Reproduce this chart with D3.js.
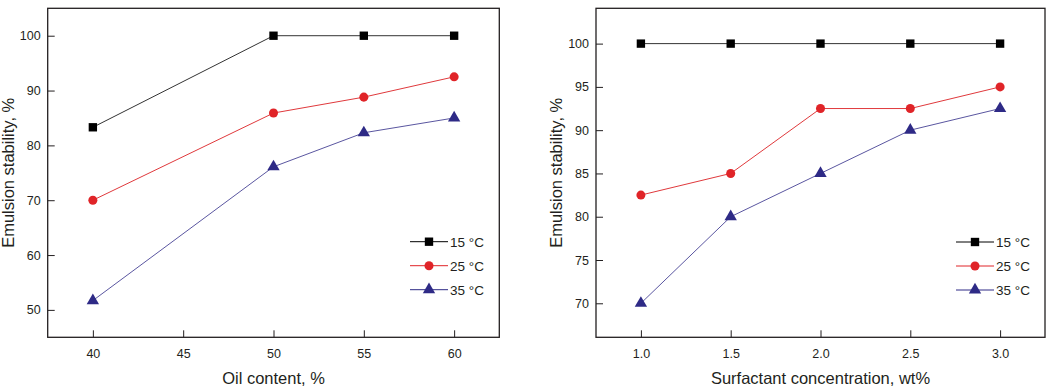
<!DOCTYPE html>
<html>
<head>
<meta charset="utf-8">
<script src="https://cdn.jsdelivr.net/npm/d3@7"></script>
<style>
  body { margin: 0; background: #fff; }
  text { font-family: "Liberation Sans", Arial, sans-serif; fill: #231f20; }
</style>
</head>
<body>
<svg id="chart" width="1055" height="389"></svg>
<script>
// data
var seriesNames = ["15 °C", "25 °C", "35 °C"];
var seriesColors = ["#000000", "#e02428", "#2e2a86"];
var lineColors = ["#333333", "#e0393c", "#5a56a0"];
var seriesShapes = ["square", "circle", "triangle"];

var oilX = [40, 50, 55, 60];
var oil15 = [83.3, 100, 100, 100];
var oil25 = [70, 85.9, 88.8, 92.5];
var oil35 = [51.7, 76.1, 82.3, 85.0];
var oilTicksX = [40, 45, 50, 55, 60];
var oilTicksY = [50, 60, 70, 80, 90, 100];

var surfX = [1.0, 1.5, 2.0, 2.5, 3.0];
var surf15 = [100, 100, 100, 100, 100];
var surf25 = [82.5, 85, 92.5, 92.5, 95];
var surf35 = [70, 80, 85, 90, 92.5];
var surfTicksX = [1.0, 1.5, 2.0, 2.5, 3.0];
var surfTicksY = [70, 75, 80, 85, 90, 95, 100];

var svg = d3.select("#chart");

function symbolFor(shape) {
  if (shape == "square") return d3.symbol().type(d3.symbolSquare).size(70);
  if (shape == "circle") return d3.symbol().type(d3.symbolCircle).size(64);
  return d3.symbol().type(d3.symbolTriangle).size(66);
}

function drawPanel(opt) {
  var x = d3.scaleLinear().domain(opt.xDomain).range([opt.left, opt.right]);
  var y = d3.scaleLinear().domain(opt.yDomain).range([opt.bottom, opt.top]);
  var g = svg.append("g");

  // x axis (ticks pointing inward)
  g.append("g")
    .attr("transform", "translate(0," + opt.bottom + ")")
    .call(d3.axisTop(x).tickValues(opt.xTicks).tickSize(7).tickFormat(opt.xFormat))
    .call(function(a) {
      a.select(".domain").remove();
      a.selectAll("line").attr("stroke", "#231f20");
      a.selectAll("text").attr("y", 21).attr("font-size", 12.5).attr("dy", 0);
    });

  // y axis
  g.append("g")
    .attr("transform", "translate(" + opt.left + ",0)")
    .call(d3.axisRight(y).tickValues(opt.yTicks).tickSize(7))
    .call(function(a) {
      a.select(".domain").remove();
      a.selectAll("line").attr("stroke", "#231f20");
      a.selectAll("text").attr("x", -7).attr("text-anchor", "end").attr("font-size", 12.5);
    });

  // frame
  g.append("rect")
    .attr("x", opt.left).attr("y", opt.top)
    .attr("width", opt.right - opt.left).attr("height", opt.bottom - opt.top)
    .attr("fill", "none").attr("stroke", "#231f20").attr("stroke-width", 1.3);

  var line = d3.line()
    .x(function(d) { return x(d[0]); })
    .y(function(d) { return y(d[1]); });

  opt.series.forEach(function(vals, i) {
    var pts = opt.xs.map(function(v, j) { return [v, vals[j]]; });
    g.append("path").datum(pts)
      .attr("d", line).attr("fill", "none")
      .attr("stroke", lineColors[i]).attr("stroke-width", 1);
    g.selectAll(".m" + i).data(pts).enter().append("path")
      .attr("transform", function(d) { return "translate(" + x(d[0]) + "," + y(d[1]) + ")"; })
      .attr("d", symbolFor(seriesShapes[i]))
      .attr("fill", seriesColors[i]);
  });

  // legend
  seriesNames.forEach(function(name, i) {
    var ly = opt.legY + i * 24;
    g.append("line")
      .attr("x1", opt.legX).attr("x2", opt.legX + 38)
      .attr("y1", ly).attr("y2", ly)
      .attr("stroke", seriesColors[i]).attr("stroke-width", 1);
    g.append("path")
      .attr("transform", "translate(" + (opt.legX + 19) + "," + ly + ")")
      .attr("d", symbolFor(seriesShapes[i]))
      .attr("fill", seriesColors[i]);
    g.append("text")
      .attr("x", opt.legX + 40).attr("y", ly + 5)
      .attr("font-size", 13.5)
      .text(name);
  });

  // axis titles
  g.append("text")
    .attr("x", (opt.left + opt.right) / 2).attr("y", 384)
    .attr("text-anchor", "middle").attr("font-size", 16.5)
    .text(opt.xTitle);
  g.append("text")
    .attr("transform", "translate(" + opt.yTitleX + "," + ((opt.top + opt.bottom) / 2) + ") rotate(-90)")
    .attr("text-anchor", "middle").attr("font-size", 16.5)
    .text("Emulsion stability, %");
}

drawPanel({
  left: 47.7, right: 499.3, top: 8.3, bottom: 337.3,
  xDomain: [37.5, 62.5], yDomain: [45, 105],
  xTicks: oilTicksX, yTicks: oilTicksY, xFormat: d3.format("d"),
  xs: oilX, series: [oil15, oil25, oil35],
  legX: 410, legY: 241.7,
  xTitle: "Oil content, %", yTitleX: 14
});

drawPanel({
  left: 596, right: 1045, top: 8.3, bottom: 337.3,
  xDomain: [0.75, 3.25], yDomain: [66.07, 104.08],
  xTicks: surfTicksX, yTicks: surfTicksY, xFormat: d3.format(".1f"),
  xs: surfX, series: [surf15, surf25, surf35],
  legX: 956, legY: 242,
  xTitle: "Surfactant concentration, wt%", yTitleX: 562
});
</script>
</body>
</html>
